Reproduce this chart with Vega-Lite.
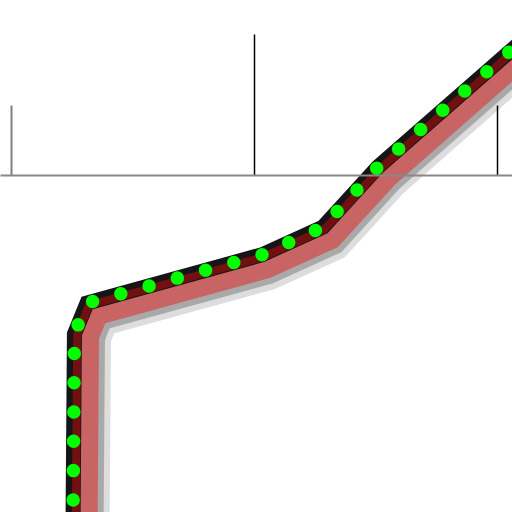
{
  "$schema": "https://vega.github.io/schema/vega-lite/v6.json",
  "width": 512,
  "height": 512,
  "padding": 0,
  "autosize": {"type": "fit", "contains": "padding"},
  "background": "white",
  "config": {"view": {"stroke": null}},
  "data": {
    "values": [
      {"s": "center", "i": 0, "x": 2.54, "y": -15.84},
      {"s": "center", "i": 1, "x": 2.61, "y": -6.54},
      {"s": "center", "i": 2, "x": 3.13, "y": -5.27},
      {"s": "center", "i": 3, "x": 10.33, "y": -3.28},
      {"s": "center", "i": 4, "x": 12.84, "y": -2.14},
      {"s": "center", "i": 5, "x": 15.10, "y": 0.33},
      {"s": "center", "i": 6, "x": 21.77, "y": 6.17},
      {"s": "light", "i": 0, "x": 3.757, "y": -15.852},
      {"s": "light", "i": 1, "x": 3.826, "y": -6.783},
      {"s": "light", "i": 2, "x": 4.029, "y": -6.278},
      {"s": "light", "i": 3, "x": 10.744, "y": -4.425},
      {"s": "light", "i": 4, "x": 13.567, "y": -3.143},
      {"s": "light", "i": 5, "x": 15.954, "y": -0.539},
      {"s": "light", "i": 6, "x": 22.572, "y": 5.286},
      {"s": "grey", "i": 0, "x": 3.510, "y": -15.851},
      {"s": "grey", "i": 1, "x": 3.579, "y": -6.735},
      {"s": "grey", "i": 2, "x": 3.845, "y": -6.073},
      {"s": "grey", "i": 3, "x": 10.660, "y": -4.192},
      {"s": "grey", "i": 4, "x": 13.419, "y": -2.939},
      {"s": "grey", "i": 5, "x": 15.781, "y": -0.363},
      {"s": "grey", "i": 6, "x": 22.409, "y": 5.471},
      {"s": "red", "i": 0, "x": 3.016, "y": -15.847},
      {"s": "red", "i": 1, "x": 3.086, "y": -6.637},
      {"s": "red", "i": 2, "x": 3.479, "y": -5.661},
      {"s": "red", "i": 3, "x": 10.491, "y": -3.726},
      {"s": "red", "i": 4, "x": 13.123, "y": -2.531},
      {"s": "red", "i": 5, "x": 15.434, "y": -0.009},
      {"s": "red", "i": 6, "x": 22.082, "y": 5.842},
      {"s": "darkred", "i": 0, "x": 2.654, "y": -15.844},
      {"s": "darkred", "i": 1, "x": 2.724, "y": -6.565},
      {"s": "darkred", "i": 2, "x": 3.210, "y": -5.360},
      {"s": "darkred", "i": 3, "x": 10.367, "y": -3.385},
      {"s": "darkred", "i": 4, "x": 12.906, "y": -2.232},
      {"s": "darkred", "i": 5, "x": 15.181, "y": 0.250},
      {"s": "darkred", "i": 6, "x": 21.843, "y": 6.114}
    ]
  },
  "encoding": {
    "x": {
      "field": "x",
      "type": "quantitative",
      "scale": {"domain": [-0.4527, 20.617], "nice": false, "zero": false},
      "axis": {
        "orient": "top",
        "offset": -175,
        "values": [0, 10, 20],
        "labels": false,
        "title": null,
        "grid": false,
        "domain": true,
        "domainColor": "#888888",
        "domainWidth": 2,
        "zindex": 1,
        "tickColor": {"condition": {"test": "datum.value == 0", "value": "#808080"}, "value": "#000000"},
        "tickWidth": {"condition": {"test": "datum.value == 0", "value": 2}, "value": 1.5},
        "tickSize": {"condition": {"test": "datum.value == 10", "value": 141}, "value": 70}
      }
    },
    "y": {
      "field": "y",
      "type": "quantitative",
      "scale": {"domain": [-13.868, 7.2016], "nice": false, "zero": false},
      "axis": null
    },
    "order": {"field": "i"}
  },
  "layer": [
    {"transform": [{"filter": "datum.s == 'light'"}], "mark": {"type": "line", "clip": true, "color": "#dddddd", "strokeWidth": 14}},
    {"transform": [{"filter": "datum.s == 'grey'"}], "mark": {"type": "line", "clip": true, "color": "#a9a9a9", "strokeWidth": 14}},
    {"transform": [{"filter": "datum.s == 'red'"}], "mark": {"type": "line", "clip": true, "color": "#c86464", "strokeWidth": 26}},
    {"transform": [{"filter": "datum.s == 'center'"}], "mark": {"type": "line", "clip": true, "color": "#151515", "strokeWidth": 15}},
    {"transform": [{"filter": "datum.s == 'darkred'"}], "mark": {"type": "line", "clip": true, "color": "#701010", "strokeWidth": 8}},
    {"transform": [{"filter": "datum.s == 'center'"}], "mark": {"type": "line", "clip": true, "color": "#00ff00", "strokeWidth": 13.5, "strokeCap": "round", "strokeDash": [0, 29.3], "strokeDashOffset": 27.9}}
  ]
}
